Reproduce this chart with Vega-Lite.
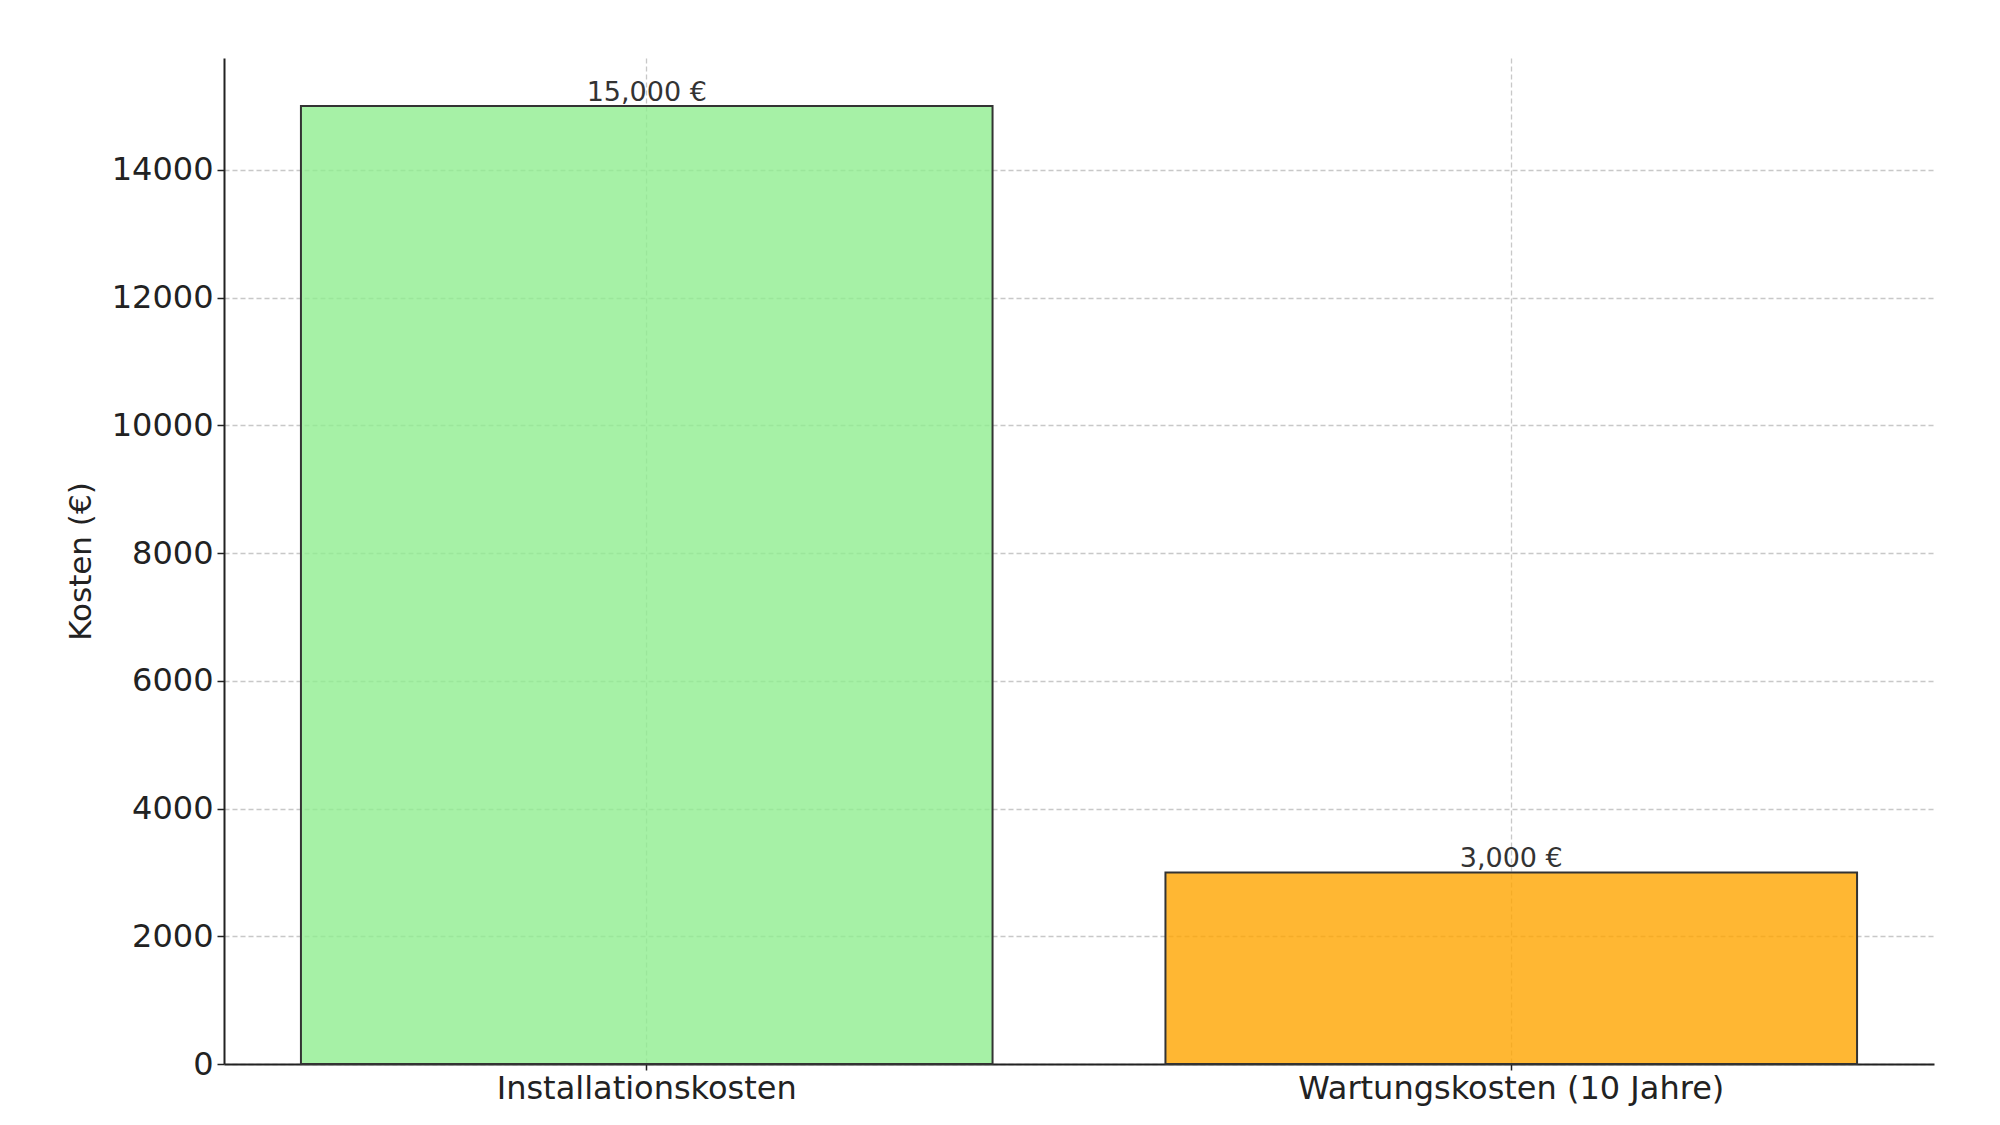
{
  "$schema": "https://vega.github.io/schema/vega-lite/v6.json",
  "width": 1710,
  "height": 1006,
  "autosize": {"type": "none"},
  "padding": {"left": 224, "top": 58, "right": 66, "bottom": 61},
  "background": "white",
  "config": {
    "view": {"stroke": null},
    "font": "DejaVu Sans",
    "axis": {
      "labelFont": "DejaVu Sans",
      "titleFont": "DejaVu Sans",
      "labelColor": "#222222",
      "titleColor": "#222222",
      "domainColor": "#222222",
      "tickColor": "#222222",
      "domainWidth": 2,
      "tickWidth": 1.5,
      "gridColor": "#b0b0b0",
      "gridOpacity": 0.7,
      "gridDash": [5, 3],
      "gridWidth": 1.3,
      "labelLimit": 0
    }
  },
  "data": {
    "values": [
      {"kategorie": "Installationskosten", "kosten": 15000, "label": "15,000 €"},
      {"kategorie": "Wartungskosten (10 Jahre)", "kosten": 3000, "label": "3,000 €"}
    ]
  },
  "encoding": {
    "x": {
      "field": "kategorie",
      "type": "nominal",
      "sort": null,
      "scale": {"paddingInner": 0.2, "paddingOuter": 0.089},
      "axis": {
        "title": null,
        "labelAngle": 0,
        "labelFontSize": 32,
        "labelPadding": 3,
        "labelLimit": 0,
        "tickSize": 6,
        "grid": true,
        "bandPosition": 0.5
      }
    },
    "y": {
      "field": "kosten",
      "type": "quantitative",
      "scale": {"domain": [0, 15750], "nice": false},
      "axis": {
        "title": "Kosten (€)",
        "titleFontSize": 31,
        "titleFontWeight": "normal",
        "titlePadding": 14,
        "labelFontSize": 32,
        "labelPadding": 4,
        "tickSize": 7,
        "format": "d",
        "values": [0, 2000, 4000, 6000, 8000, 10000, 12000, 14000],
        "grid": true
      }
    }
  },
  "layer": [
    {
      "mark": {"type": "bar", "stroke": "#333333", "strokeWidth": 2, "fillOpacity": 0.8},
      "encoding": {
        "color": {
          "field": "kategorie",
          "type": "nominal",
          "scale": {"domain": ["Installationskosten", "Wartungskosten (10 Jahre)"], "range": ["#90EE90", "#FFA500"]},
          "legend": null
        }
      }
    },
    {
      "mark": {"type": "text", "baseline": "bottom", "dy": 1, "fontSize": 27, "color": "#333333", "font": "DejaVu Sans"},
      "encoding": {
        "text": {"field": "label"}
      }
    }
  ]
}
